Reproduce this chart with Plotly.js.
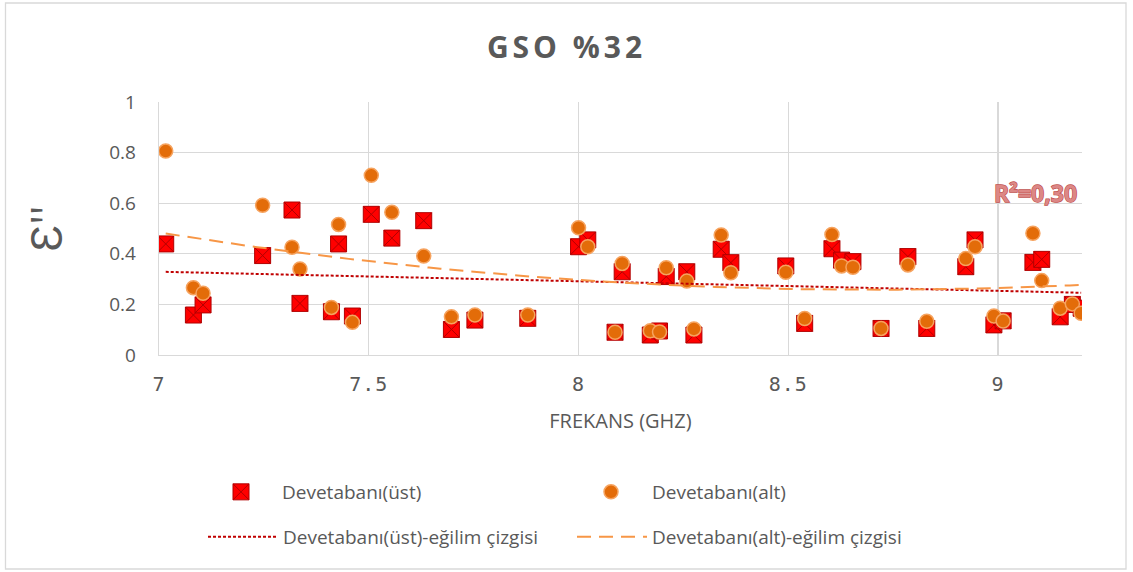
<!DOCTYPE html>
<html><head><meta charset="utf-8">
<script src="https://cdn.plot.ly/plotly-3.0.1.min.js"></script>
<style>
html,body{margin:0;padding:0;background:#fff;}
#chart{width:1133px;height:572px;}
.gtitle{letter-spacing:4px;}
.xtick text{letter-spacing:1px;}
.annotation-text{stroke:#c0504d;stroke-width:1.3px;paint-order:stroke;}
</style></head><body><div id="chart"></div>
<script>
// Frequency (GHz)
const frekans = [7.016,7.082,7.105,7.247,7.317,7.336,7.411,7.428,7.461,7.506,7.555,7.631,7.697,7.753,7.879,
  8.000,8.022,8.087,8.104,8.171,8.193,8.209,8.258,8.275,8.340,8.363,8.494,8.539,8.604,8.627,8.654,8.721,8.785,8.830,
  8.923,8.945,8.990,9.012,9.083,9.104,9.148,9.177,9.198];
// Devetabanı(üst)
const ustValues = [0.439,0.158,0.198,0.393,0.573,0.204,0.171,0.439,0.154,0.556,0.462,0.531,0.101,0.138,0.145,
  0.428,0.455,0.090,0.329,0.079,0.095,0.310,0.329,0.079,0.418,0.365,0.352,0.125,0.420,0.375,0.369,0.105,0.389,0.105,
  0.349,0.455,0.119,0.135,0.366,0.378,0.151,0.200,0.185];
// Devetabanı(alt)
const altValues = [0.806,0.266,0.244,0.592,0.426,0.340,0.188,0.516,0.129,0.710,0.564,0.391,0.151,0.158,0.158,
  0.503,0.428,0.090,0.362,0.096,0.091,0.345,0.292,0.103,0.474,0.325,0.327,0.144,0.476,0.352,0.347,0.105,0.356,0.133,
  0.381,0.428,0.154,0.134,0.481,0.294,0.185,0.202,0.165];
const seriesNames = ['Devetabanı(üst)','Devetabanı(alt)','Devetabanı(üst)-eğilim çizgisi','Devetabanı(alt)-eğilim çizgisi'];
const xTicks = [7,7.5,8,8.5,9];
const yTicks = [0,0.2,0.4,0.6,0.8,1];
const r2Label = 'R²=0,30';

// least squares polynomial fit
function polyfit(xs, ys, order){
  const n = order+1;
  const A = Array.from({length:n},()=>Array(n+1).fill(0));
  for(let k=0;k<xs.length;k++){
    for(let i=0;i<n;i++){
      for(let j=0;j<n;j++) A[i][j]+=Math.pow(xs[k],i+j);
      A[i][n]+=ys[k]*Math.pow(xs[k],i);
    }
  }
  for(let i=0;i<n;i++){
    let p=i; for(let r=i+1;r<n;r++) if(Math.abs(A[r][i])>Math.abs(A[p][i])) p=r;
    [A[i],A[p]]=[A[p],A[i]];
    for(let r=0;r<n;r++){ if(r===i) continue; const f=A[r][i]/A[i][i]; for(let c=i;c<=n;c++) A[r][c]-=f*A[i][c]; }
  }
  return A.map((row,i)=>row[n]/row[i]);
}
function evalPoly(c,x){ return c.reduce((s,ci,i)=>s+ci*Math.pow(x,i),0); }
const xMin = Math.min(...frekans), xMax = Math.max(...frekans);
const trendX = []; for(let i=0;i<=80;i++) trendX.push(xMin+(xMax-xMin)*i/80);
const cUst = polyfit(frekans, ustValues, 1);
const cAlt = polyfit(frekans, altValues, 2);

const W=1133,H=572, mL=159, mR=51, mT=102, mB=217;
const pw=W-mL-mR, ph=H-mT-mB;
const gray='#595959';
const traces = [
  {x:frekans, y:ustValues, type:'scatter', mode:'markers', name:seriesNames[0],
   marker:{symbol:'square-x', size:16, color:'#ff0000', line:{color:'#b00000', width:1}}},
  {x:frekans, y:altValues, type:'scatter', mode:'markers', name:seriesNames[1],
   marker:{symbol:'circle', size:14, color:'#e36c09', line:{color:'#f6a35f', width:1.5}}},
  {x:trendX, y:trendX.map(x=>evalPoly(cUst,x)), type:'scatter', mode:'lines', name:seriesNames[2], legend:'legend2',
   line:{color:'#c00000', width:2, dash:'3px,2px'}},
  {x:trendX, y:trendX.map(x=>evalPoly(cAlt,x)), type:'scatter', mode:'lines', name:seriesNames[3], legend:'legend2',
   line:{color:'#f79646', width:2, dash:'14px,8px'}}
];
const layout = {
  width:W, height:H, margin:{l:mL,r:mR,t:mT,b:mB},
  paper_bgcolor:'#fff', plot_bgcolor:'#fff',
  font:{family:'Open Sans, sans-serif', color:gray},
  title:{text:'GSO %32', x:0.5, xref:'container', y:1-47/H, yref:'container', yanchor:'middle',
    font:{family:'Open Sans, sans-serif', size:30, weight:700, color:gray}},
  xaxis:{range:[7,9.2], tickvals:xTicks, ticktext:xTicks.map(String), showgrid:true, gridcolor:'#d9d9d9', gridwidth:1.3,
    zeroline:false, showline:true, linecolor:'#d9d9d9', linewidth:1.3, ticks:'', ticklabelstandoff:11,
    tickfont:{family:'DejaVu Sans Mono, monospace', size:20, color:gray},
    title:{text:'FREKANS (GHZ)', standoff:18, font:{size:20, color:gray}}},
  yaxis:{range:[0,1], tickvals:yTicks, ticktext:yTicks.map(String), showgrid:true, gridcolor:'#d9d9d9', gridwidth:1.3,
    zeroline:false, showline:true, linecolor:'#d9d9d9', linewidth:1.3, ticks:'', ticklabelstandoff:18,
    tickfont:{size:19, color:gray},
    title:{text:"Ɛ''", standoff:32, font:{size:44, color:gray}}},
  legend:{orientation:'h', xref:'container', x:200/W, yref:'container', y:1-492/H, yanchor:'middle', xanchor:'left',
    entrywidth:283, font:{size:19, color:gray}, itemwidth:72, bgcolor:'rgba(0,0,0,0)'},
  legend2:{orientation:'h', xref:'container', x:203/W, yref:'container', y:1-537/H, yanchor:'middle', xanchor:'left',
    entrywidth:284, font:{size:19, color:gray}, itemwidth:70, bgcolor:'rgba(0,0,0,0)'},
  annotations:[{text:r2Label, x:9.09, y:0.64, xref:'x', yref:'y', showarrow:false,
    font:{size:23, weight:700, color:'#dc8785'}}],
  shapes:[{type:'rect', xref:'paper', yref:'paper', layer:'below',
    x0:(5.5-mL)/pw, x1:(1126-mL)/pw, y0:(H-mB-569)/ph, y1:(H-mB-3)/ph,
    line:{color:'#d9d9d9', width:1.3}, fillcolor:'rgba(0,0,0,0)'}]
};
Plotly.newPlot('chart', traces, layout, {displayModeBar:false, staticPlot:true});
</script></body></html>
